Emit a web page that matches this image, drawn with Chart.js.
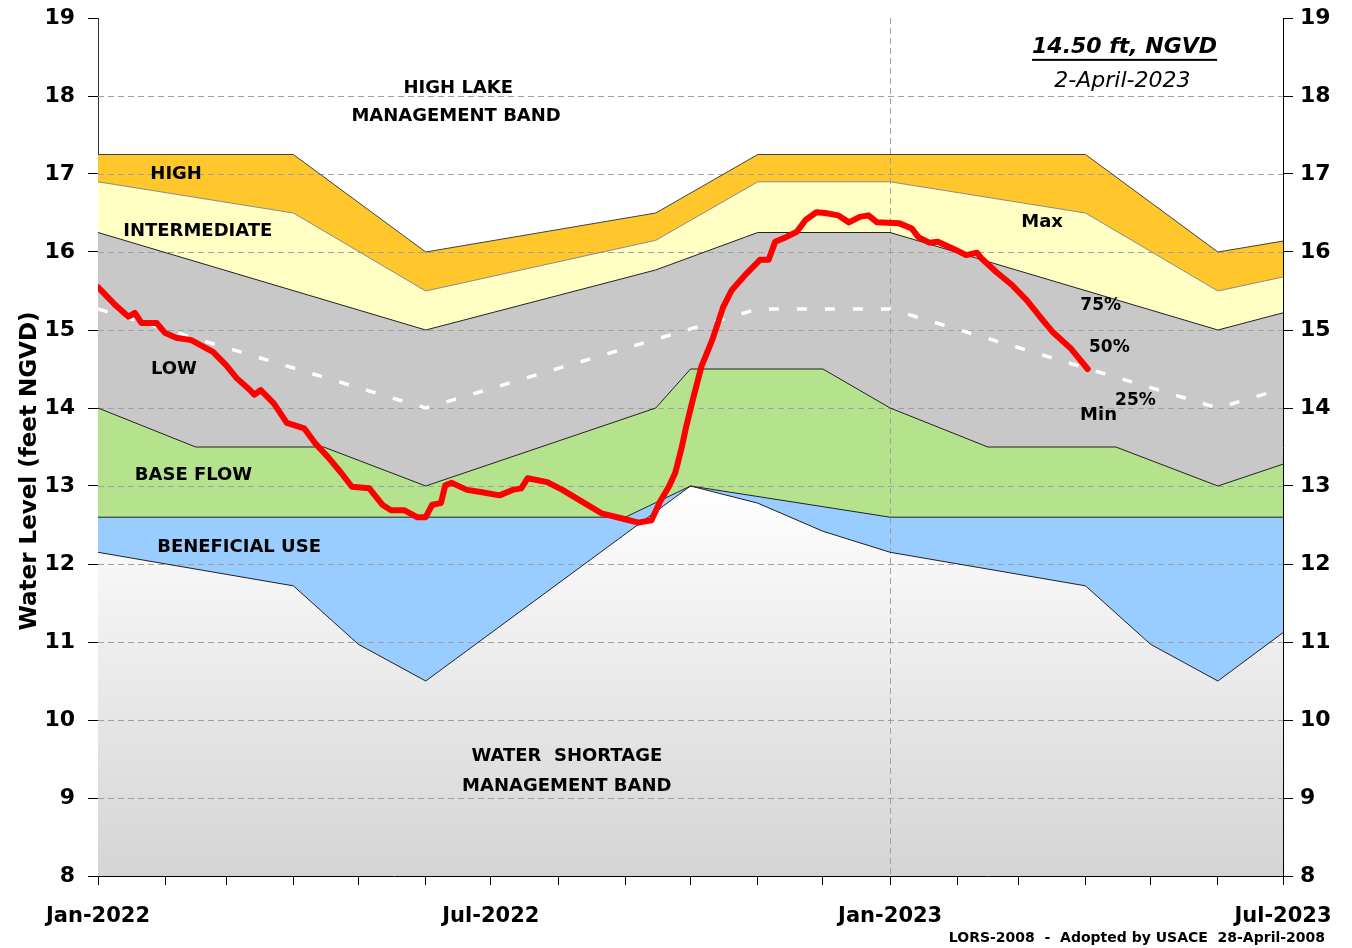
<!DOCTYPE html>
<html>
<head>
<meta charset="utf-8">
<title>Lake Okeechobee - LORS-2008</title>
<script src="https://cdn.jsdelivr.net/npm/chart.js@4.4.1/dist/chart.umd.min.js"></script>
<style>
  html, body { margin: 0; padding: 0; background: #fff; }
</style>
</head>
<body>
<canvas id="chart" width="1352" height="948"></canvas>
<script>
// ------------------------
// DATA
// ------------------------
const monthTicks = ['2022-01-01','2022-02-01','2022-03-01','2022-04-01','2022-05-01','2022-06-01','2022-07-01',
  '2022-08-01','2022-09-01','2022-10-01','2022-11-01','2022-12-01','2023-01-01','2023-02-01','2023-03-01',
  '2023-04-01','2023-05-01','2023-06-01','2023-07-01'];
const xTickDates = ['2022-01-01','2022-07-01','2023-01-01','2023-07-01'];
const xTickLabels = ['Jan-2022','Jul-2022','Jan-2023','Jul-2023'];

// observed lake stage (ft NGVD)
const redDates = ['2022-01-01','2022-01-09','2022-01-15','2022-01-18','2022-01-21','2022-01-28','2022-02-01','2022-02-06',
  '2022-02-13','2022-02-17','2022-02-23','2022-03-01','2022-03-06','2022-03-12','2022-03-14','2022-03-17','2022-03-23',
  '2022-03-29','2022-04-06','2022-04-11','2022-04-17','2022-04-23','2022-04-28','2022-05-06','2022-05-12','2022-05-16',
  '2022-05-22','2022-05-28','2022-06-01','2022-06-04','2022-06-08','2022-06-10','2022-06-13','2022-06-20','2022-06-27',
  '2022-07-05','2022-07-11','2022-07-15','2022-07-18','2022-07-27','2022-08-03','2022-08-12','2022-08-21','2022-08-31',
  '2022-09-07','2022-09-13','2022-09-17','2022-09-21','2022-09-24','2022-09-27','2022-09-29','2022-10-02','2022-10-06',
  '2022-10-11','2022-10-16','2022-10-20','2022-10-27','2022-11-02','2022-11-06','2022-11-09','2022-11-14','2022-11-19',
  '2022-11-23','2022-11-28','2022-12-02','2022-12-08','2022-12-13','2022-12-18','2022-12-22','2022-12-26','2023-01-05',
  '2023-01-11','2023-01-14','2023-01-19','2023-01-23','2023-01-31','2023-02-05','2023-02-10','2023-02-12','2023-02-19',
  '2023-02-26','2023-03-05','2023-03-11','2023-03-17','2023-03-25','2023-04-02'];
const redLevels = [15.55,15.32,15.17,15.22,15.09,15.09,14.96,14.90,14.87,14.81,14.72,14.55,14.38,14.23,14.17,14.23,14.06,
  13.81,13.74,13.55,13.37,13.17,12.99,12.97,12.76,12.69,12.69,12.60,12.60,12.76,12.78,13.01,13.04,12.95,12.92,
  12.88,12.95,12.97,13.10,13.05,12.95,12.80,12.65,12.58,12.53,12.56,12.80,12.99,13.17,13.50,13.76,14.10,14.53,
  14.87,15.29,15.51,15.73,15.90,15.90,16.13,16.19,16.26,16.41,16.51,16.50,16.47,16.38,16.45,16.47,16.38,16.37,
  16.30,16.19,16.12,16.13,16.03,15.96,15.99,15.92,15.74,15.58,15.38,15.17,14.97,14.77,14.50];

// white dashed line
const midDates = ['2022-01-01','2022-06-01','2022-11-01','2023-01-01','2023-06-01','2023-07-01'];
const midLevels = [15.27,14.0,15.27,15.27,14.0,14.25];

// band boundaries, top to bottom
const highTopDates = ['2022-01-01','2022-04-01','2022-06-01','2022-09-15','2022-11-01','2023-04-01','2023-06-01','2023-07-01'];
const highTopLevels = [17.25,17.25,16.0,16.5,17.25,17.25,16.0,16.14];

const highIntDates = ['2022-01-01','2022-04-01','2022-06-01','2022-09-15','2022-11-01','2023-01-01','2023-04-01','2023-06-01','2023-07-01'];
const highIntLevels = [16.9,16.5,15.5,16.15,16.9,16.9,16.5,15.5,15.68];

const intLowDates = ['2022-01-01','2022-06-01','2022-09-15','2022-11-01','2023-01-01','2023-06-01','2023-07-01'];
const intLowLevels = [16.25,15.0,15.77,16.25,16.25,15.0,15.22];

const lowBaseDates = ['2022-01-01','2022-02-15','2022-04-15','2022-06-01','2022-09-15','2022-10-01','2022-12-01',
  '2023-01-01','2023-02-15','2023-04-15','2023-06-01','2023-07-01'];
const lowBaseLevels = [14.0,13.5,13.5,13.0,14.0,14.5,14.5,14.0,13.5,13.5,13.0,13.28];

const baseBenDates = ['2022-01-01','2022-09-01','2022-10-01','2023-01-01','2023-07-01'];
const baseBenLevels = [12.6,12.6,13.0,12.6,12.6];

const shortDates = ['2022-01-01','2022-04-01','2022-05-01','2022-06-01','2022-10-01','2022-11-01','2022-12-01',
  '2023-01-01','2023-04-01','2023-05-01','2023-06-01','2023-07-01'];
const shortLevels = [12.15,11.72,10.97,10.5,13.0,12.78,12.42,12.15,11.72,10.97,10.5,11.12];

// ------------------------
// HELPERS
// ------------------------
const T0 = Date.UTC(2022, 0, 1);
function day(s) {
  const [y, m, d] = s.split('-').map(Number);
  return (Date.UTC(y, m - 1, d) - T0) / 864e5;
}
function pts(dates, vals) {
  return dates.map((d, i) => ({ x: day(d), y: vals[i] }));
}

const FONT = '"DejaVu Sans", Verdana, sans-serif';

// labels placed in data space
const bandLabels = [
  { t: 'HIGH LAKE', d: '2022-06-16', v: 18.1, f: 'bold 18px' },
  { t: 'MANAGEMENT BAND', d: '2022-06-15', v: 17.74, f: 'bold 18px' },
  { t: 'HIGH', d: '2022-02-06', v: 17.0, f: 'bold 18px' },
  { t: 'INTERMEDIATE', d: '2022-02-16', v: 16.26, f: 'bold 18px' },
  { t: 'LOW', d: '2022-02-05', v: 14.5, f: 'bold 18px' },
  { t: 'BASE FLOW', d: '2022-02-14', v: 13.14, f: 'bold 18px' },
  { t: 'BENEFICIAL USE', d: '2022-03-07', v: 12.22, f: 'bold 18px' },
  { t: 'WATER  SHORTAGE', d: '2022-08-05', v: 9.53, f: 'bold 18px' },
  { t: 'MANAGEMENT BAND', d: '2022-08-05', v: 9.15, f: 'bold 18px' },
  { t: 'Max', d: '2023-03-12', v: 16.38, f: 'bold 18px' },
  { t: '75%', d: '2023-04-08', v: 15.31, f: 'bold 17px' },
  { t: '50%', d: '2023-04-12', v: 14.78, f: 'bold 17px' },
  { t: '25%', d: '2023-04-24', v: 14.09, f: 'bold 17px' },
  { t: 'Min', d: '2023-04-07', v: 13.9, f: 'bold 18px' },
  { t: '2-April-2023', d: '2023-04-18', v: 18.19, f: 'italic 22px' }
];

const overlay = {
  id: 'overlay',
  beforeDatasetsDraw(chart) {
    // dashed grid sits on top of the coloured bands
    const { ctx, chartArea: a, scales: { x, y } } = chart;
    ctx.save();
    ctx.strokeStyle = '#a0a0a0';
    ctx.lineWidth = 1;
    ctx.setLineDash([6, 4]);
    y.ticks.forEach(t => {
      if (t.value === y.min || t.value === y.max) return;
      const py = Math.round(y.getPixelForValue(t.value)) + 0.5;
      ctx.beginPath(); ctx.moveTo(a.left, py); ctx.lineTo(a.right, py); ctx.stroke();
    });
    ['2023-01-01'].forEach(d => {
      const px = Math.round(x.getPixelForValue(day(d))) + 0.5;
      ctx.beginPath(); ctx.moveTo(px, a.top); ctx.lineTo(px, a.bottom); ctx.stroke();
    });
    ctx.restore();
  },
  afterDraw(chart) {
    const { ctx, scales: { x, y } } = chart;
    ctx.save();
    ctx.fillStyle = '#000';
    ctx.textAlign = 'center';
    ctx.textBaseline = 'middle';
    bandLabels.forEach(l => {
      ctx.font = l.f + ' ' + FONT;
      ctx.fillText(l.t, x.getPixelForValue(day(l.d)), y.getPixelForValue(l.v));
    });

    // current stage, underlined
    const sx = x.getPixelForValue(day('2023-04-19'));
    const sy = y.getPixelForValue(18.63);
    ctx.font = 'bold italic 22px ' + FONT;
    const label = '14.50 ft, NGVD';
    ctx.fillText(label, sx, sy);
    const w = ctx.measureText(label).width;
    ctx.fillRect(sx - w / 2, sy + 12, w, 2);

    // axis title
    ctx.font = 'bold 23px ' + FONT;
    ctx.translate(30, 471);
    ctx.rotate(-Math.PI / 2);
    ctx.fillText('Water Level (feet NGVD)', 0, 0);
    ctx.restore();

    ctx.save();
    ctx.font = 'bold 14px ' + FONT;
    ctx.textAlign = 'right';
    ctx.textBaseline = 'alphabetic';
    ctx.fillStyle = '#000';
    ctx.fillText('LORS-2008  -  Adopted by USACE  28-April-2008', 1325, 942);
    ctx.restore();
  }
};

function shortageFill(c) {
  const chart = c.chart;
  const a = chart.chartArea;
  if (!a) return '#e0e0e0';
  const top = chart.scales.y.getPixelForValue(13);
  const g = chart.ctx.createLinearGradient(0, top, 0, a.bottom);
  g.addColorStop(0, '#ffffff');
  g.addColorStop(1, '#d4d4d4');
  return g;
}

const boundary = (data, color, fill, bg) => ({
  data, fill, backgroundColor: bg, borderColor: color, borderWidth: 1,
  pointRadius: 0, tension: 0
});

const tickFont = { family: FONT, size: 22, weight: 'bold' };

// fixed side widths; label overhang must not move the plot frame
function fitSide(width) {
  return s => { s.width = width; s.paddingTop = 0; s.paddingBottom = 0; };
}

new Chart(document.getElementById('chart'), {
  type: 'line',
  data: {
    datasets: [
      { label: 'Lake stage', data: pts(redDates, redLevels), borderColor: '#ff0000', borderWidth: 6,
        borderJoinStyle: 'round', borderCapStyle: 'round', pointRadius: 0, fill: false, tension: 0 },
      { label: 'Mid', data: pts(midDates, midLevels), borderColor: '#ffffff', borderWidth: 3.5,
        borderDash: [10, 18], pointRadius: 0, fill: false, tension: 0 },
      boundary(pts(highTopDates, highTopLevels), '#404040', 3, '#ffc72c'),
      boundary(pts(highIntDates, highIntLevels), '#8a8a8a', 4, '#ffffc4'),
      boundary(pts(intLowDates, intLowLevels), '#202020', 5, '#c8c8c8'),
      boundary(pts(lowBaseDates, lowBaseLevels), '#202020', 6, '#b5e28c'),
      boundary(pts(baseBenDates, baseBenLevels), '#202020', 7, '#99ccff'),
      boundary(pts(shortDates, shortLevels), '#202020', 'start', shortageFill)
    ]
  },
  options: {
    responsive: false,
    animation: false,
    events: [],
    layout: { padding: { top: 18, left: 0, right: 0, bottom: 0 } },
    plugins: {
      legend: { display: false },
      tooltip: { enabled: false },
      filler: { drawTime: 'beforeDatasetsDraw' }
    },
    scales: {
      x: {
        type: 'linear', min: day('2022-01-01'), max: day('2023-07-01'), z: 1,
        afterBuildTicks: s => { s.ticks = monthTicks.map(d => ({ value: day(d) })); },
        afterFit: s => { s.height = 72; s.paddingLeft = 0; s.paddingRight = 0; },
        ticks: {
          autoSkip: false, maxRotation: 0, padding: 19, color: '#000',
          font: { family: FONT, size: 21, weight: 'bold' },
          callback: v => {
            const i = xTickDates.findIndex(d => day(d) === v);
            return i >= 0 ? xTickLabels[i] : '';
          }
        },
        grid: { drawOnChartArea: false, tickLength: 9, color: '#000' },
        border: { color: '#000' }
      },
      y: {
        position: 'left', min: 8, max: 19, z: 1,
        afterFit: fitSide(98),
        ticks: { stepSize: 1, padding: 13, color: '#000', font: tickFont },
        grid: { drawOnChartArea: false, tickLength: 10, color: '#000' },
        border: { color: '#333' }
      },
      y2: {
        position: 'right', min: 8, max: 19, z: 1,
        afterFit: fitSide(69),
        ticks: { stepSize: 1, padding: 7, color: '#000', font: tickFont },
        grid: { drawOnChartArea: false, tickLength: 10, color: '#000' },
        border: { color: '#000' }
      }
    }
  },
  plugins: [overlay]
});
</script>
</body>
</html>
